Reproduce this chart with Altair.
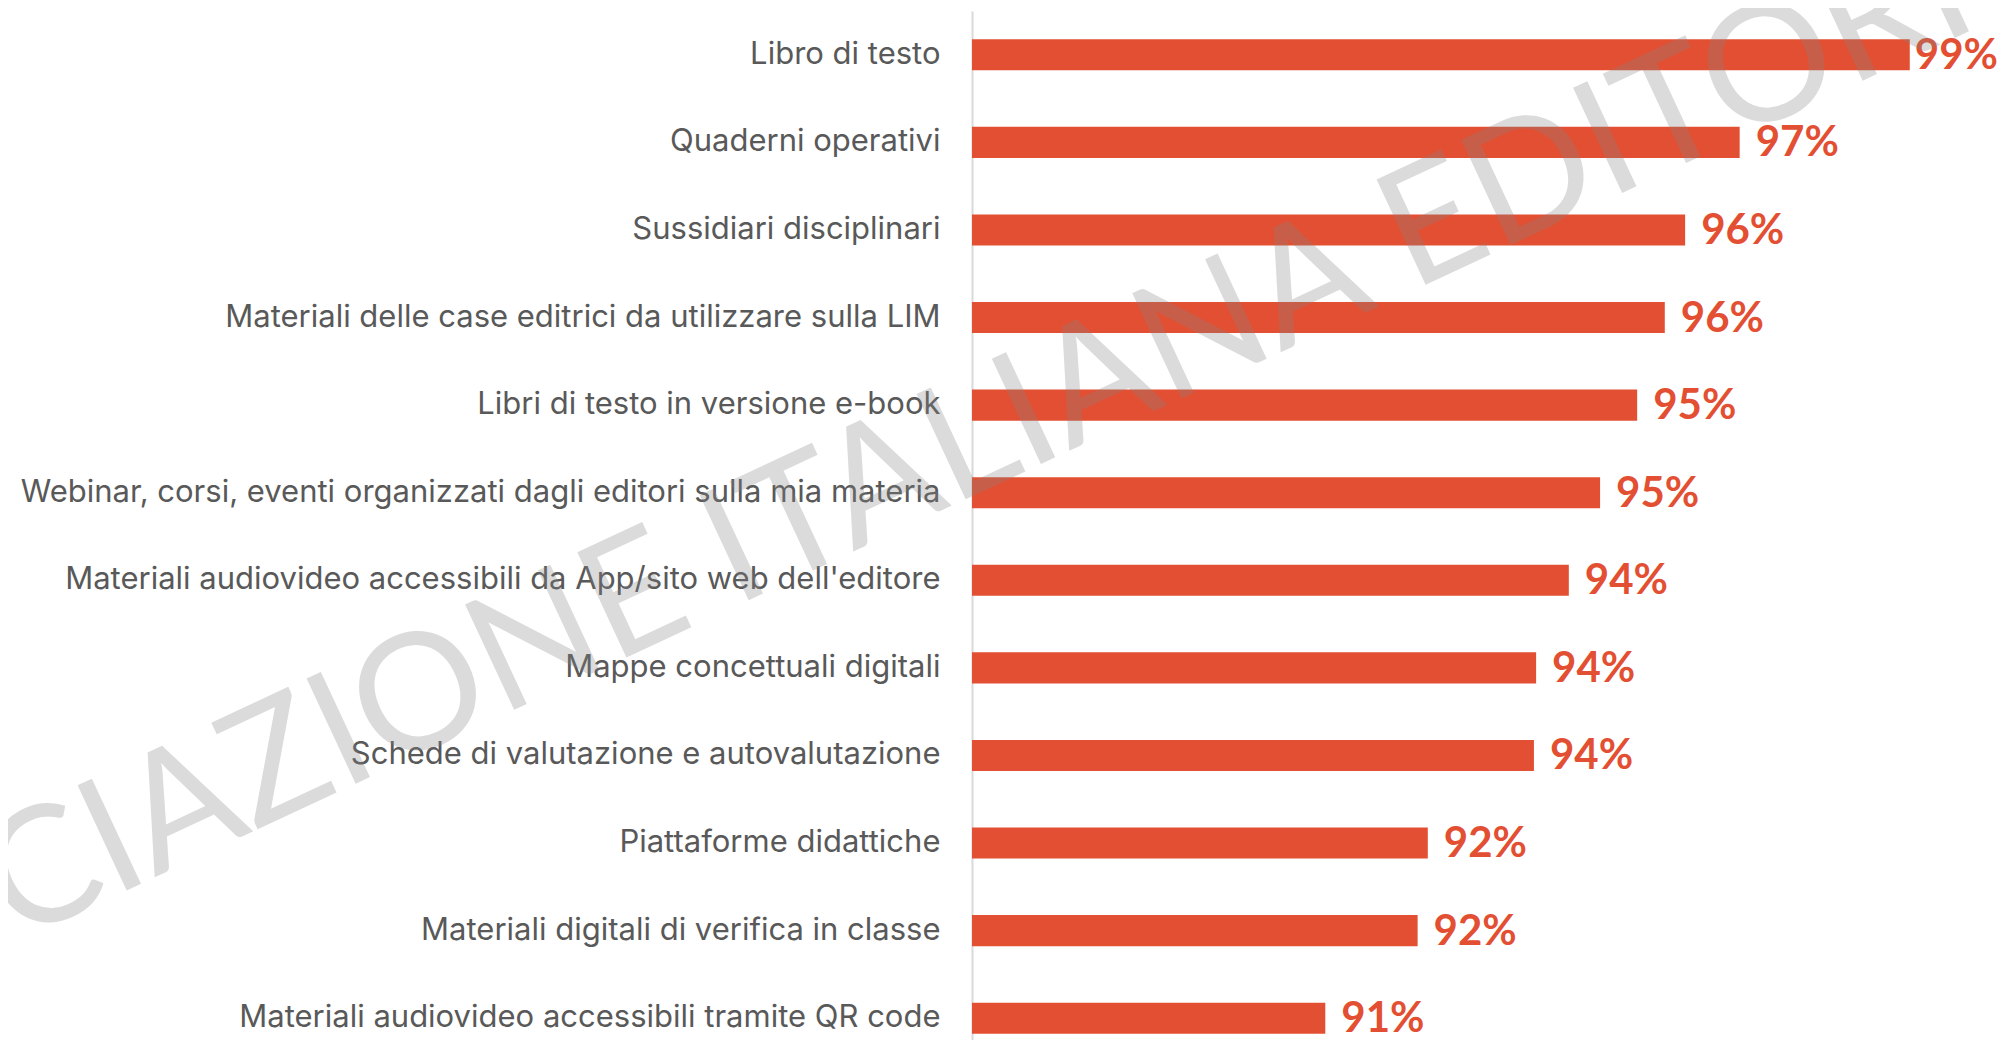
import altair as alt
import pandas as pd

categories = [
    "Libro di testo",
    "Quaderni operativi",
    "Sussidiari disciplinari",
    "Materiali delle case editrici da utilizzare sulla LIM",
    "Libri di testo in versione e-book",
    "Webinar, corsi, eventi organizzati dagli editori sulla mia materia",
    "Materiali audiovideo accessibili da App/sito web dell'editore",
    "Mappe concettuali digitali",
    "Schede di valutazione e autovalutazione",
    "Piattaforme didattiche",
    "Materiali digitali di verifica in classe",
    "Materiali audiovideo accessibili tramite QR code",
]
values = [98.9, 96.56, 95.81, 95.53, 95.15, 94.64, 94.21, 93.76, 93.73, 92.27, 92.13, 90.86]
value_labels = ["99%", "97%", "96%", "96%", "95%", "95%", "94%", "94%", "94%", "92%", "92%", "91%"]
watermark = ["ASSOCIAZIONE ITALIANA EDITORI"]

df = pd.DataFrame({"cat": categories, "value": values, "label": value_labels})

LABEL_FONT = "Inter"
FONT = "Lato"
RED = "#E34F32"
GRAY = "#595959"

xscale = alt.Scale(domain=[86, 100.1], nice=False, zero=False)
yscale = alt.Scale(range=[0, 1051], paddingInner=0.646, paddingOuter=0.323)

base = alt.Chart(df)

bars = base.mark_bar(color=RED).encode(
    x=alt.X("value:Q", scale=xscale, axis=None),
    x2=alt.datum(86),
    y=alt.Y(
        "cat:N",
        sort=categories,
        scale=yscale,
        axis=alt.Axis(
            title=None,
            ticks=False,
            domainColor="#d9d9d9",
            domainWidth=2,
            labelFont=LABEL_FONT,
            labelFontSize=31,
            labelColor=GRAY,
            labelPadding=32,
            labelLimit=1200,
        ),
    ),
)

text_main = base.transform_filter("datum.value < 98").mark_text(
    align="left", baseline="middle", dx=16, dy=1, font=FONT, fontWeight="bold", fontSize=42, color=RED
).encode(
    x=alt.X("value:Q", scale=xscale),
    y=alt.Y("cat:N", sort=categories, scale=yscale),
    text="label:N",
)

text_top = base.transform_filter("datum.value >= 98").mark_text(
    align="left", baseline="middle", dx=5, dy=1, font=FONT, fontWeight="bold", fontSize=42, color=RED
).encode(
    x=alt.X("value:Q", scale=xscale),
    y=alt.Y("cat:N", sort=categories, scale=yscale),
    text="label:N",
)

wm = alt.Chart(pd.DataFrame({"t": watermark})).mark_text(
    align="center", baseline="middle", angle=335, font=FONT, fontSize=162,
    color="#858585", opacity=0.29,
).encode(
    text="t:N",
    x=alt.value(-182),
    y=alt.value(516),
)

chart = alt.layer(bars, text_main, text_top, wm).properties(
    width=1025,
    height=1029,
    autosize=alt.AutoSizeParams(type="none"),
    padding={"left": 964, "top": 3, "right": 0, "bottom": 0},
).configure_view(stroke=None)

chart.save("out.html", embed_options={"renderer": "svg", "actions": False})
